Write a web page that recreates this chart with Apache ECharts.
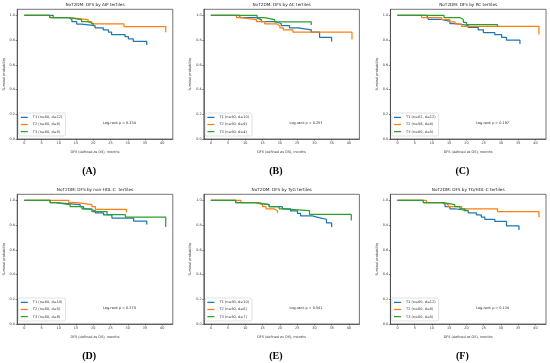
<!DOCTYPE html>
<html><head><meta charset="utf-8">
<script src="https://cdn.jsdelivr.net/npm/echarts@6/dist/echarts.min.js"></script>
<style>html,body{margin:0;padding:0;background:#fff}#c{width:550px;height:363px}</style>
</head><body><div id="c"></div>
<script>
// ---- tick labels ----
const xTicks = [0, 5, 10, 15, 20, 25, 30, 35, 40];
const yTicks = [0, 0.2, 0.4, 0.6, 0.8, 1.0];

// ---- panel texts ----
const titles = ['NoT2DM: DFS by AIP tertiles', 'NoT2DM: DFS by AC tertiles', 'NoT2DM: DFS by RC tertiles',
  'NoT2DM: DFS by non-HDL-C  tertiles', 'NoT2DM: DFS by TyG tertiles', 'NoT2DM: DFS by TG/HDL-C tertiles'];
const tags = ['(A)', '(B)', '(C)', '(D)', '(E)', '(F)'];
const logRank = ['0.134', '0.257', '0.197', '0.374', '0.541', '0.134'];
const legendA = ['T1 (n=60, d=12)', 'T2 (n=60, d=6)', 'T3 (n=60, d=5)'];
const legendB = ['T1 (n=60, d=10)', 'T2 (n=60, d=9)', 'T3 (n=60, d=4)'];
const legendC = ['T1 (n=62, d=12)', 'T2 (n=58, d=6)', 'T3 (n=60, d=5)'];
const legendD = ['T1 (n=60, d=10)', 'T2 (n=60, d=5)', 'T3 (n=60, d=8)'];
const legendE = ['T1 (n=60, d=10)', 'T2 (n=60, d=6)', 'T3 (n=60, d=7)'];
const legendF = ['T1 (n=60, d=12)', 'T2 (n=60, d=6)', 'T3 (n=60, d=5)'];

// ---- Kaplan-Meier step data (time in months, survival probability) ----
const aT1Time = [0, 8.4, 12.8, 13.8, 15.2, 16.6, 20.5, 22.9, 24.4, 25.3, 29.2, 30.2, 31.6, 35.5];
const aT1Surv = [1, 0.983, 0.967, 0.95, 0.93, 0.917, 0.9, 0.883, 0.866, 0.845, 0.828, 0.81, 0.79, 0.76];
const aT2Time = [0, 7.4, 13.2, 18.5, 19.5, 28.9, 41];
const aT2Surv = [1, 0.983, 0.967, 0.95, 0.932, 0.91, 0.865];
const aT3Time = [0, 7.4, 12.8, 16.6, 18.5, 20, 20.5];
const aT3Surv = [1, 0.983, 0.967, 0.95, 0.935, 0.918, 0.918];

const bT1Time = [0, 8.4, 13.2, 14.6, 18.5, 20.4, 22.8, 25.3, 29.1, 31.5, 35];
const bT1Surv = [1, 0.983, 0.967, 0.95, 0.935, 0.918, 0.9, 0.884, 0.866, 0.822, 0.79];
const bT2Time = [0, 7.4, 8.9, 13.2, 15.6, 19, 20, 21, 23.8, 40.9];
const bT2Surv = [1, 0.983, 0.967, 0.95, 0.933, 0.917, 0.9, 0.883, 0.865, 0.805];
const bT3Time = [0, 13.4, 15.5, 18.5, 29.1];
const bT3Surv = [1, 0.983, 0.967, 0.948, 0.922];

const cT1Time = [0, 8.5, 9, 12.8, 15.2, 16.7, 20.5, 23.4, 24.9, 28.2, 30.2, 31.6, 35.5];
const cT1Surv = [1, 0.984, 0.968, 0.952, 0.935, 0.92, 0.903, 0.884, 0.862, 0.845, 0.822, 0.8, 0.77];
const cT2Time = [0, 7, 12.8, 15.2, 16.7, 18.6, 41];
const cT2Surv = [1, 0.983, 0.966, 0.948, 0.93, 0.912, 0.845];
const cT3Time = [0, 13.5, 18.1, 19.1, 20, 29];
const cT3Surv = [1, 0.983, 0.967, 0.945, 0.926, 0.908];

const dT1Time = [0, 7.5, 9, 16.2, 17.2, 18.6, 20.6, 23, 25.4, 31.7, 35.5];
const dT1Surv = [1, 0.983, 0.967, 0.95, 0.933, 0.917, 0.9, 0.883, 0.858, 0.832, 0.805];
const dT2Time = [0, 12.9, 15.3, 19.6, 20.6, 29.6];
const dT2Surv = [1, 0.983, 0.967, 0.95, 0.928, 0.905];
const dT3Time = [0, 7.5, 9, 13.3, 16.7, 19.6, 24, 29.3, 41];
const dT3Surv = [1, 0.983, 0.967, 0.95, 0.933, 0.91, 0.885, 0.865, 0.785];

const eT1Time = [0, 7.2, 13, 16.9, 20.7, 23.1, 25.1, 26, 29.4, 31.3, 33.5, 35];
const eT1Surv = [1, 0.983, 0.967, 0.95, 0.933, 0.915, 0.895, 0.875, 0.862, 0.848, 0.818, 0.785];
const eT2Time = [0, 8.7, 13, 15, 16, 18.3, 19.3];
const eT2Surv = [1, 0.983, 0.967, 0.95, 0.933, 0.917, 0.9];
const eT3Time = [0, 7.2, 13, 16.9, 19.8, 21, 28.6, 40.7];
const eT3Surv = [1, 0.983, 0.967, 0.95, 0.933, 0.917, 0.887, 0.838];

const fT1Time = [0, 7.5, 13, 13.8, 15.2, 16.6, 20.5, 22.9, 24.3, 25.3, 28.2, 31.6, 35.2];
const fT1Surv = [1, 0.983, 0.967, 0.95, 0.933, 0.917, 0.9, 0.883, 0.866, 0.848, 0.83, 0.795, 0.76];
const fT2Time = [0, 8.4, 13.3, 14.7, 18.6, 29, 41];
const fT2Surv = [1, 0.983, 0.967, 0.95, 0.933, 0.91, 0.865];
const fT3Time = [0, 7.5, 13.3, 16.6, 18.1, 19.5, 20];
const fT3Surv = [1, 0.983, 0.967, 0.95, 0.933, 0.915, 0.915];

const panelLegends = [legendA, legendB, legendC, legendD, legendE, legendF];
const panelCurves = [
  [[aT1Time, aT1Surv], [aT2Time, aT2Surv], [aT3Time, aT3Surv]],
  [[bT1Time, bT1Surv], [bT2Time, bT2Surv], [bT3Time, bT3Surv]],
  [[cT1Time, cT1Surv], [cT2Time, cT2Surv], [cT3Time, cT3Surv]],
  [[dT1Time, dT1Surv], [dT2Time, dT2Surv], [dT3Time, dT3Surv]],
  [[eT1Time, eT1Surv], [eT2Time, eT2Surv], [eT3Time, eT3Surv]],
  [[fT1Time, fT1Surv], [fT2Time, fT2Surv], [fT3Time, fT3Surv]]
];

// ---- layout / style ----
const colors = ['#1f77b4', '#ff7f0e', '#2ca02c'];
const FONT = '"DejaVu Sans", sans-serif';
const colStep = 186.6, rowStep = 185;
const boxL = 17.2, boxT = 9.3, boxW = 155.6, boxH = 129.7;
const axisCol = '#3a3a3a', textCol = '#333';

const grids = [], xAxes = [], yAxes = [], series = [], legends = [], graphics = [];
for (let i = 0; i < 6; i++) {
  const c = i % 3, r = Math.floor(i / 3);
  const ox = c * colStep, oy = r * rowStep;
  grids.push({left: boxL + ox, top: boxT + oy, width: boxW, height: boxH, show: true,
    borderColor: axisCol, borderWidth: 0.7, backgroundColor: 'transparent', containLabel: false, outerBoundsMode: 'none'});
  xAxes.push({type: 'value', gridIndex: i, min: -2.05, max: 43.05,
    axisLine: {show: true, onZero: false, lineStyle: {color: axisCol, width: 0.7}},
    axisTick: {show: true, customValues: xTicks, length: 1.6, lineStyle: {color: axisCol, width: 0.6}},
    axisLabel: {customValues: xTicks, fontSize: 3.4, margin: 2.2, color: textCol, fontFamily: FONT},
    splitLine: {show: false},
    name: 'DFS (defined as OS), months', nameLocation: 'middle', nameGap: 12,
    nameTextStyle: {fontSize: 3.4, color: textCol, fontFamily: FONT}});
  yAxes.push({type: 'value', gridIndex: i, min: 0, max: 1.05,
    axisLine: {show: true, onZero: false, lineStyle: {color: axisCol, width: 0.7}},
    axisTick: {show: true, customValues: yTicks, length: 1.6, lineStyle: {color: axisCol, width: 0.6}},
    axisLabel: {customValues: yTicks, fontSize: 3.4, margin: 2.2, color: textCol, fontFamily: FONT,
      formatter: v => Number(v).toFixed(1)},
    splitLine: {show: false},
    name: 'Survival probability', nameLocation: 'middle', nameGap: 12, nameRotate: 90,
    nameTextStyle: {fontSize: 3.4, color: textCol, fontFamily: FONT}});
  panelCurves[i].forEach((cv, k) => {
    series.push({type: 'line', name: panelLegends[i][k], xAxisIndex: i, yAxisIndex: i,
      step: 'end', symbol: 'none', animation: false, color: colors[k],
      itemStyle: {color: colors[k]},
      lineStyle: {width: 1.25, color: colors[k]},
      data: cv[0].map((t, j) => [t, cv[1][j]])});
  });
  legends.push({
    data: panelLegends[i].map((n, k) => ({name: n, icon: 'rect',
      itemStyle: {color: colors[k], borderWidth: 0, opacity: 1}})),
    orient: 'vertical', left: 18.6 + ox, top: 113 + oy,
    itemWidth: 7, itemHeight: 1.3, itemGap: 3.1,
    padding: [2.4, 3, 2.4, 2.2], borderColor: '#cfcfcf', borderWidth: 0.6, borderRadius: 1.5,
    backgroundColor: 'rgba(255,255,255,0.8)', selectedMode: false,
    textStyle: {fontSize: 3.5, color: textCol, fontFamily: FONT}});
  graphics.push({type: 'text', x: boxL + boxW / 2 + ox, y: 4.7 + oy,
    style: {text: titles[i], fontSize: 4.2, fontFamily: FONT, fill: '#222',
      textAlign: 'center', align: 'center', textVerticalAlign: 'middle', verticalAlign: 'middle'}});
  graphics.push({type: 'text', x: 103 + ox, y: 122.7 + oy,
    style: {text: 'Log-rank p = ' + logRank[i], fontSize: 3.4, fontFamily: FONT, fill: '#222',
      textAlign: 'left', align: 'left', textVerticalAlign: 'middle', verticalAlign: 'middle'}});
  graphics.push({type: 'text', x: 89.2 + ox, y: 171.7 + oy,
    style: {text: tags[i], fontSize: 10, fontWeight: 'bold', fontFamily: '"Liberation Serif", "Times New Roman", serif', fill: '#000',
      textAlign: 'center', align: 'center', textVerticalAlign: 'middle', verticalAlign: 'middle'}});
}

const chart = echarts.init(document.getElementById('c'), null, {renderer: 'canvas'});
chart.setOption({
  animation: false,
  backgroundColor: '#fff',
  grid: grids, xAxis: xAxes, yAxis: yAxes, series: series, legend: legends,
  graphic: {elements: graphics}
});
</script></body></html>
